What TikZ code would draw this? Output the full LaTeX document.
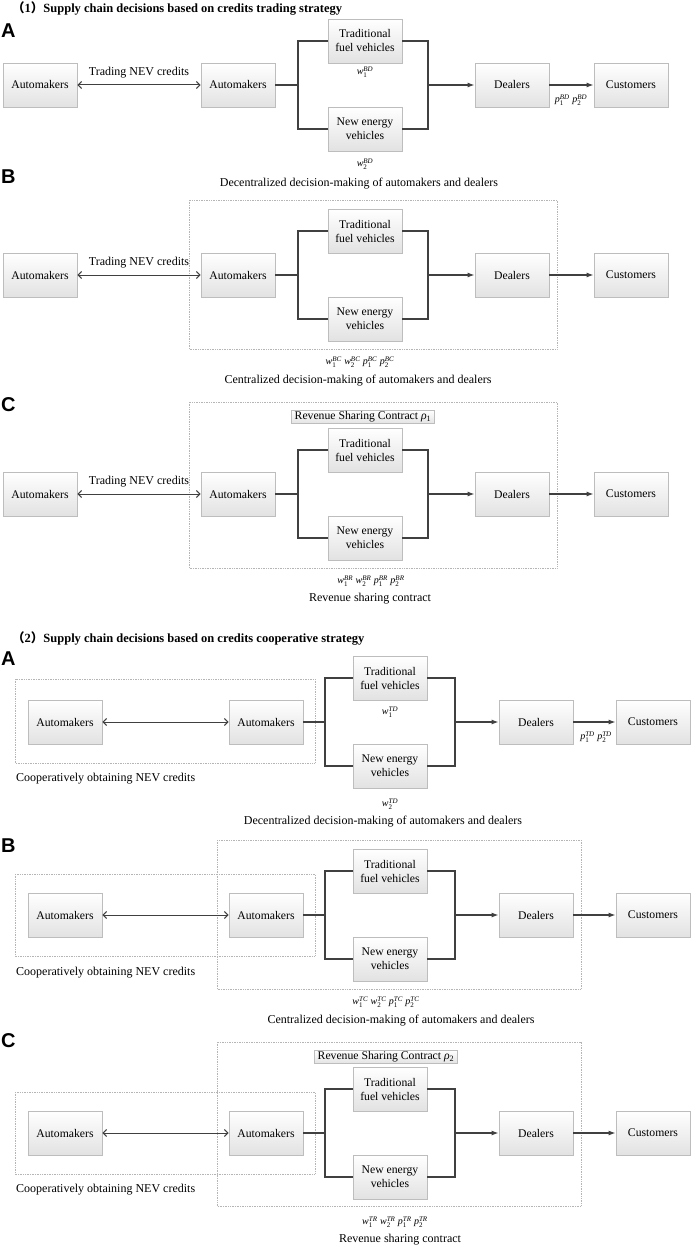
\documentclass[tikz,border=0pt]{standalone}
\usepackage{amsmath}
\usepackage{fontspec}
\setmainfont{Liberation Serif}
\newfontfamily\hdfont{Liberation Sans}
\newfontfamily\cjk{Noto Sans CJK SC}
\usetikzlibrary{arrows.meta,shadows}
\definecolor{boxborder}{HTML}{BDBDBD}
\definecolor{boxfill}{HTML}{E2E2E2}
\definecolor{lncol}{HTML}{404040}
\definecolor{dotcol}{HTML}{B5B5B5}
\newcommand{\vlab}[3]{$\textit{#1}_{\text{#2}}^{\textit{#3}}$}
\newcommand{\gp}{\hspace{2.5pt}}
\tikzset{
  box/.style={draw=boxborder, line width=0.8pt, top color=white, bottom color=boxfill,
    minimum width=74pt, minimum height=44pt, inner sep=1pt, align=center,
    font=\fontsize{11.7}{14}\selectfont,
    drop shadow={opacity=0.18, shadow xshift=1.2pt, shadow yshift=-1.2pt}},
  rbox/.style={draw=boxborder, line width=0.7pt, top color=white, bottom color=boxfill,
    inner xsep=3pt, inner ysep=1.5pt, font=\fontsize{11.7}{13}\selectfont},
  ln/.style={draw=lncol, line width=1.2pt},
  arr/.style={ln, -{Latex[length=7pt,width=5pt]}},
  darr/.style={draw=lncol, line width=1pt, {Straight Barb[length=3.5pt,width=7pt]}-{Straight Barb[length=3.5pt,width=7pt]}},
  dbox/.style={draw=dotcol, line width=0.7pt, densely dotted},
  txt/.style={inner sep=0pt, font=\fontsize{12}{14}\selectfont},
  sml/.style={inner sep=0pt, font=\fontsize{10}{12}\selectfont},
  hd/.style={inner sep=0pt, anchor=west, font=\fontsize{12.5}{14}\selectfont\bfseries},
  letter/.style={inner sep=0pt, anchor=west, font=\hdfont\bfseries\fontsize{20}{22}\selectfont},
}
\begin{document}
\begin{tikzpicture}[x=1pt,y=-1pt]
\useasboundingbox[fill=white] (0,0) rectangle (692,1249);

% ================= Section 1 =================
\node[hd] (h1) at (12,8) {{\cjk （}1{\cjk ）}Supply chain decisions based on credits trading strategy};

% ---------- A(1) ----------
\node[letter] (LA1) at (1,31) {A};
\node[box] (a1A) at (40,85) {Automakers};
\node[box] (a2A) at (238,85) {Automakers};
\node[box] (tfA) at (365,41) {Traditional\\fuel vehicles};
\node[box] (nvA) at (365,129) {New energy\\vehicles};
\node[box] (dA) at (512,85) {Dealers};
\node[box] (cA) at (631,85) {Customers};
\coordinate (brA) at (298,85);
\coordinate (mgA) at (428,85);
\draw[darr] (a1A.east) -- (a2A.west) node[txt, midway, above=6pt] (tnA) {Trading NEV credits};
\draw[ln] (a2A.east) -- (brA);
\draw[ln] (tfA.west) -| (brA) |- (nvA.west);
\draw[ln] (tfA.east) -| (mgA) |- (nvA.east);
\draw[arr] (mgA) -- (dA.west);
\draw[arr] (dA.east) -- (cA.west);
\node[sml] (w1A) at (365,72) {\vlab{w}{1}{BD}};
\node[sml] (w2A) at (365,164) {\vlab{w}{2}{BD}};
\node[sml] (pA) at (571,100) {\vlab{p}{1}{BD}\gp\vlab{p}{2}{BD}};
\node[txt] (capA) at (359,184) {Decentralized decision-making of automakers and dealers};

% ---------- B(1) ----------
\node[letter] (LB1) at (1,177) {B};
\draw[dbox] (189,200) rectangle (557,349);
\node[box] (a1B) at (40,275) {Automakers};
\node[box] (a2B) at (238,275) {Automakers};
\node[box] (tfB) at (365,231) {Traditional\\fuel vehicles};
\node[box] (nvB) at (365,319) {New energy\\vehicles};
\node[box] (dB) at (512,275) {Dealers};
\node[box] (cB) at (631,275) {Customers};
\coordinate (brB) at (298,275);
\coordinate (mgB) at (428,275);
\draw[darr] (a1B.east) -- (a2B.west) node[txt, midway, above=6pt] (tnB) {Trading NEV credits};
\draw[ln] (a2B.east) -- (brB);
\draw[ln] (tfB.west) -| (brB) |- (nvB.west);
\draw[ln] (tfB.east) -| (mgB) |- (nvB.east);
\draw[arr] (mgB) -- (dB.west);
\draw[arr] (dB.east) -- (cB.west);
\node[sml] (wB) at (360,362) {\vlab{w}{1}{BC}\gp\vlab{w}{2}{BC}\gp\vlab{p}{1}{BC}\gp\vlab{p}{2}{BC}};
\node[txt] (capB) at (358,381) {Centralized decision-making of automakers and dealers};

% ---------- C(1) ----------
\node[letter] (LC1) at (1,405) {C};
\draw[dbox] (189,402) rectangle (557,568);
\node[rbox] (rsC) at (363,417) {Revenue Sharing Contract \textit{ρ}$_{\text{1}}$};
\node[box] (a1C) at (40,494) {Automakers};
\node[box] (a2C) at (238,494) {Automakers};
\node[box] (tfC) at (365,450) {Traditional\\fuel vehicles};
\node[box] (nvC) at (365,538) {New energy\\vehicles};
\node[box] (dC) at (512,494) {Dealers};
\node[box] (cC) at (631,494) {Customers};
\coordinate (brC) at (298,494);
\coordinate (mgC) at (428,494);
\draw[darr] (a1C.east) -- (a2C.west) node[txt, midway, above=6pt] (tnC) {Trading NEV credits};
\draw[ln] (a2C.east) -- (brC);
\draw[ln] (tfC.west) -| (brC) |- (nvC.west);
\draw[ln] (tfC.east) -| (mgC) |- (nvC.east);
\draw[arr] (mgC) -- (dC.west);
\draw[arr] (dC.east) -- (cC.west);
\node[sml] (wC) at (371,581) {\vlab{w}{1}{BR}\gp\vlab{w}{2}{BR}\gp\vlab{p}{1}{BR}\gp\vlab{p}{2}{BR}};
\node[txt] (capC) at (370,599) {Revenue sharing contract};

% ================= Section 2 =================
\node[hd] (h2) at (12,638) {{\cjk （}2{\cjk ）}Supply chain decisions based on credits cooperative strategy};

% ---------- A(2) ----------
\node[letter] (LA2) at (1,659) {A};
\draw[dbox] (15,679) rectangle (315,763);
\node[box] (a1D) at (65,722) {Automakers};
\node[box] (a2D) at (266,722) {Automakers};
\node[box] (tfD) at (390,678) {Traditional\\fuel vehicles};
\node[box] (nvD) at (390,766) {New energy\\vehicles};
\node[box] (dD) at (536,722) {Dealers};
\node[box] (cD) at (653,722) {Customers};
\coordinate (brD) at (325,722);
\coordinate (mgD) at (455,722);
\draw[darr] (a1D.east) -- (a2D.west);
\draw[ln] (a2D.east) -- (brD);
\draw[ln] (tfD.west) -| (brD) |- (nvD.west);
\draw[ln] (tfD.east) -| (mgD) |- (nvD.east);
\draw[arr] (mgD) -- (dD.west);
\draw[arr] (dD.east) -- (cD.west);
\node[txt, anchor=west] (coD) at (16,779) {Cooperatively obtaining NEV credits};
\node[sml] (w1D) at (390,712) {\vlab{w}{1}{TD}};
\node[sml] (w2D) at (390,804) {\vlab{w}{2}{TD}};
\node[sml] (pD) at (596,737) {\vlab{p}{1}{TD}\gp\vlab{p}{2}{TD}};
\node[txt] (capD) at (383,822) {Decentralized decision-making of automakers and dealers};

% ---------- B(2) ----------
\node[letter] (LB2) at (1,846) {B};
\draw[dbox] (15,874) rectangle (315,956);
\draw[dbox] (217,840) rectangle (581,989);
\node[box] (a1E) at (65,915) {Automakers};
\node[box] (a2E) at (266,915) {Automakers};
\node[box] (tfE) at (390,871) {Traditional\\fuel vehicles};
\node[box] (nvE) at (390,959) {New energy\\vehicles};
\node[box] (dE) at (536,915) {Dealers};
\node[box] (cE) at (653,915) {Customers};
\coordinate (brE) at (325,915);
\coordinate (mgE) at (455,915);
\draw[darr] (a1E.east) -- (a2E.west);
\draw[ln] (a2E.east) -- (brE);
\draw[ln] (tfE.west) -| (brE) |- (nvE.west);
\draw[ln] (tfE.east) -| (mgE) |- (nvE.east);
\draw[arr] (mgE) -- (dE.west);
\draw[arr] (dE.east) -- (cE.west);
\node[txt, anchor=west] (coE) at (16,973) {Cooperatively obtaining NEV credits};
\node[sml] (wE) at (386,1002) {\vlab{w}{1}{TC}\gp\vlab{w}{2}{TC}\gp\vlab{p}{1}{TC}\gp\vlab{p}{2}{TC}};
\node[txt] (capE) at (401,1021) {Centralized decision-making of automakers and dealers};

% ---------- C(2) ----------
\node[letter] (LC2) at (1,1041) {C};
\draw[dbox] (15,1092) rectangle (315,1174);
\draw[dbox] (217,1042) rectangle (581,1206);
\node[rbox] (rsF) at (386,1057) {Revenue Sharing Contract \textit{ρ}$_{\text{2}}$};
\node[box] (a1F) at (65,1133) {Automakers};
\node[box] (a2F) at (266,1133) {Automakers};
\node[box] (tfF) at (390,1089) {Traditional\\fuel vehicles};
\node[box] (nvF) at (390,1177) {New energy\\vehicles};
\node[box] (dF) at (536,1133) {Dealers};
\node[box] (cF) at (653,1133) {Customers};
\coordinate (brF) at (325,1133);
\coordinate (mgF) at (455,1133);
\draw[darr] (a1F.east) -- (a2F.west);
\draw[ln] (a2F.east) -- (brF);
\draw[ln] (tfF.west) -| (brF) |- (nvF.west);
\draw[ln] (tfF.east) -| (mgF) |- (nvF.east);
\draw[arr] (mgF) -- (dF.west);
\draw[arr] (dF.east) -- (cF.west);
\node[txt, anchor=west] (coF) at (16,1190) {Cooperatively obtaining NEV credits};
\node[sml] (wF) at (395,1222) {\vlab{w}{1}{TR}\gp\vlab{w}{2}{TR}\gp\vlab{p}{1}{TR}\gp\vlab{p}{2}{TR}};
\node[txt] (capF) at (400,1240) {Revenue sharing contract};
\end{tikzpicture}
\end{document}
